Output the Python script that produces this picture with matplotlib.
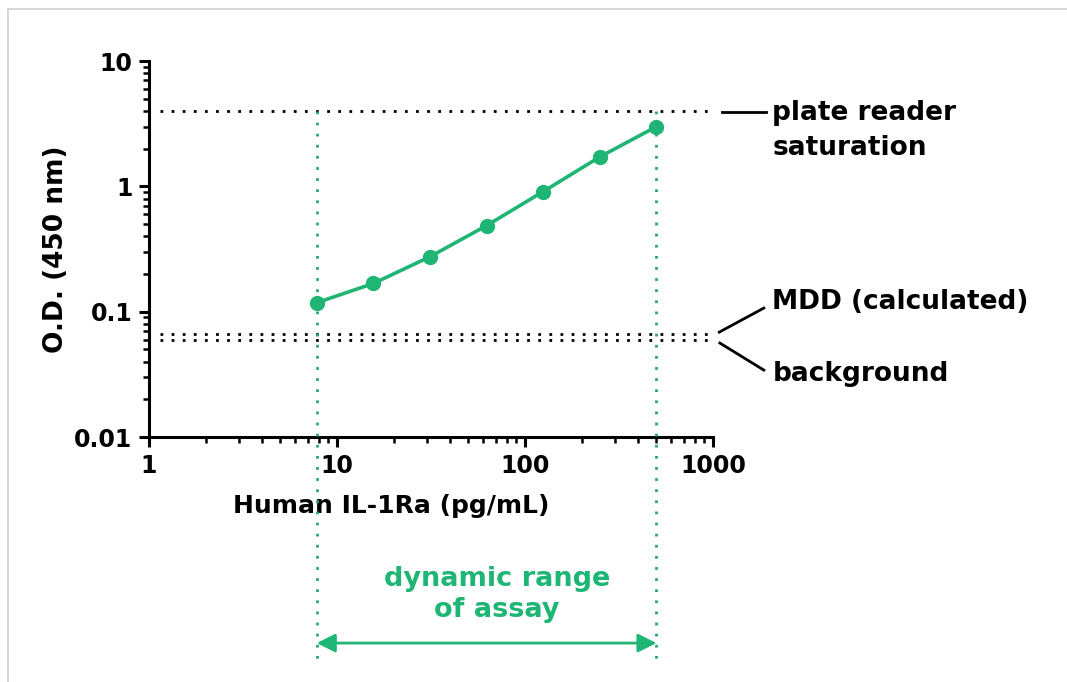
import matplotlib
matplotlib.use("Agg")
import matplotlib.pyplot as plt
import matplotlib.transforms as mtransforms
from matplotlib.lines import Line2D
from matplotlib.ticker import LogLocator, NullFormatter, FixedLocator

# ── Data ──────────────────────────────────────────────────────────────────────
conc = [7.8, 15.6, 31.25, 62.5, 125, 250, 500]          # pg/mL
od = [0.118, 0.168, 0.275, 0.487, 0.91, 1.72, 3.0]      # O.D. 450 nm

saturation = 4.0
mdd = 0.066
background = 0.059
range_lo, range_hi = 7.8, 500

xticks = [1, 10, 100, 1000]
xtick_labels = ["1", "10", "100", "1000"]
yticks = [0.01, 0.1, 1, 10]
ytick_labels = ["0.01", "0.1", "1", "10"]

GREEN = "#1fb574"
GREEN_DOT = "#27a87a"

plt.rcParams["font.family"] = ["DejaVu Sans"]
plt.rcParams["font.weight"] = "bold"

fig = plt.figure(figsize=(10.67, 6.82), dpi=100)
ax = fig.add_axes([0.1397, 0.3592, 0.5286, 0.5513])

ax.set_xscale("log")
ax.set_yscale("log")
ax.set_xlim(1, 1000)
ax.set_ylim(0.01, 10)

# curve
ax.plot(conc, od, color=GREEN, lw=2.6, marker="o", ms=10, zorder=4, clip_on=False)

# horizontal reference lines
for yv in [saturation, mdd, background]:
    ax.axhline(yv, xmin=0.02, xmax=1.0, color="black", lw=2.0,
               linestyle=(0, (1, 3)), zorder=2, clip_on=False)

# vertical dynamic range lines (run below the axes)
blend = mtransforms.blended_transform_factory(ax.transData, ax.transAxes)
y_top = ax.transAxes.inverted().transform(ax.transData.transform((1, saturation)))[1]
for xv in [range_lo, range_hi]:
    ax.plot([xv, xv], [y_top, -0.605], transform=blend, color=GREEN_DOT, lw=2.0,
            linestyle=(0, (1, 3)), zorder=5, clip_on=False)

# double arrow + label
ax.annotate("", xy=(range_hi, -0.548), xytext=(range_lo, -0.548),
            xycoords=blend, textcoords=blend,
            arrowprops=dict(arrowstyle="<|-|>", color=GREEN, lw=2.0,
                            mutation_scale=28, shrinkA=0, shrinkB=0))
ax.text(0.617, -0.42, "dynamic range\nof assay", transform=ax.transAxes,
        ha="center", va="center", color=GREEN, fontsize=19.5, fontweight="bold",
        linespacing=1.25)

# right side annotations
ax.plot([1.016, 1.094], [0.864, 0.864], transform=ax.transAxes, color="black",
        lw=2.0, clip_on=False)
ax.plot([1.011, 1.090], [0.279, 0.343], transform=ax.transAxes, color="black",
        lw=2.0, clip_on=False)
ax.plot([1.012, 1.090], [0.250, 0.178], transform=ax.transAxes, color="black",
        lw=2.0, clip_on=False)
ax.text(1.105, 0.815, "plate reader\nsaturation", transform=ax.transAxes,
        ha="left", va="center", fontsize=19, fontweight="bold", linespacing=1.45)
ax.text(1.105, 0.358, "MDD (calculated)", transform=ax.transAxes,
        ha="left", va="center", fontsize=19, fontweight="bold")
ax.text(1.105, 0.168, "background", transform=ax.transAxes,
        ha="left", va="center", fontsize=19, fontweight="bold")

# axes styling
for s in ["top", "right"]:
    ax.spines[s].set_visible(False)
for s in ["left", "bottom"]:
    ax.spines[s].set_linewidth(2.2)

ax.xaxis.set_major_locator(FixedLocator(xticks))
ax.yaxis.set_major_locator(FixedLocator(yticks))
ax.set_xticklabels(xtick_labels)
ax.set_yticklabels(ytick_labels)
ax.xaxis.set_minor_locator(LogLocator(base=10, subs=range(2, 10)))
ax.yaxis.set_minor_locator(LogLocator(base=10, subs=range(2, 10)))
ax.xaxis.set_minor_formatter(NullFormatter())
ax.yaxis.set_minor_formatter(NullFormatter())
ax.tick_params(which="major", direction="out", length=7, width=2.2,
               labelsize=17, pad=5)
ax.tick_params(which="minor", direction="out", length=4.5, width=1.8)

ax.set_xlabel("Human IL-1Ra (pg/mL)", fontsize=18, fontweight="bold")
ax.xaxis.set_label_coords(0.429, -0.151)
ax.set_ylabel("O.D. (450 nm)", fontsize=19, fontweight="bold")
ax.yaxis.set_label_coords(-0.142, 0.5)

# light frame at left / top edge
fig.add_artist(Line2D([8 / 1067, 8 / 1067], [0, 1 - 9 / 682], color="#d0d0d0", lw=1.2))
fig.add_artist(Line2D([8 / 1067, 1], [1 - 9 / 682, 1 - 9 / 682], color="#d0d0d0", lw=1.2))

fig.savefig("out.png", dpi=100)
